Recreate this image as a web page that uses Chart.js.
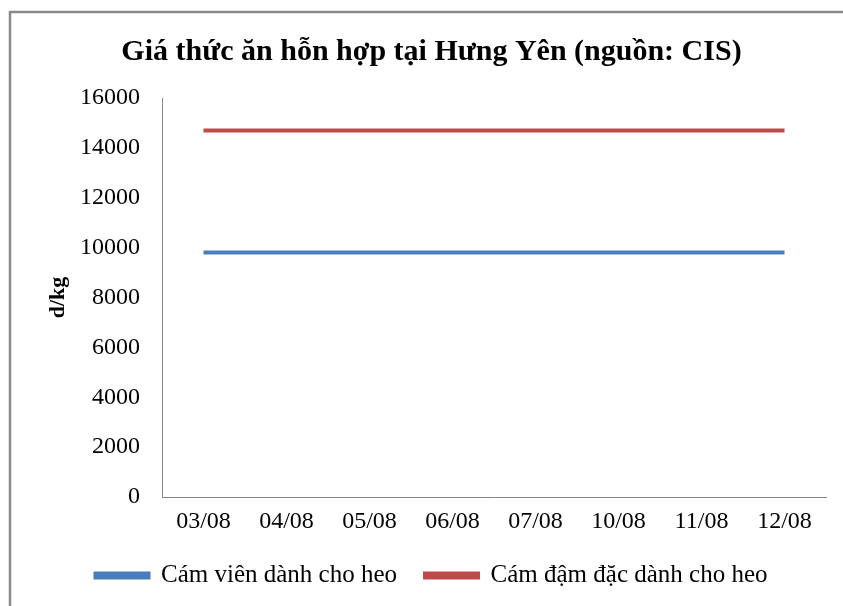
<!DOCTYPE html>
<html>
<head>
<meta charset="utf-8">
<script src="https://cdn.jsdelivr.net/npm/chart.js@4/dist/chart.umd.min.js"></script>
<style>
  html, body { margin: 0; padding: 0; background: #fff; }
  #wrap { width: 843px; height: 606px; position: relative; }
</style>
</head>
<body>
<div id="wrap"><canvas id="c" width="843" height="606"></canvas></div>
<script>
const categories = ["03/08", "04/08", "05/08", "06/08", "07/08", "10/08", "11/08", "12/08"];
const camVien = [9800, 9800, 9800, 9800, 9800, 9800, 9800, 9800];
const camDamDac = [14700, 14700, 14700, 14700, 14700, 14700, 14700, 14700];
const seriesNames = ["Cám viên dành cho heo", "Cám đậm đặc dành cho heo"];
const yTicks = [0, 2000, 4000, 6000, 8000, 10000, 12000, 14000, 16000];
const titleText = "Giá thức ăn hỗn hợp tại Hưng Yên (nguồn: CIS)";
const yTitle = "d/kg";

const FONT = "'Liberation Serif', 'Times New Roman', serif";

const framePlugin = {
  id: 'frame',
  beforeDraw(chart) {
    const ctx = chart.ctx;
    ctx.save();
    ctx.fillStyle = '#fff';
    ctx.fillRect(0, 0, chart.width, chart.height);
    ctx.strokeStyle = '#8a8a8a';
    ctx.lineWidth = 2.5;
    ctx.strokeRect(10, 12, 1000, 1000);
    ctx.restore();
  }
};

new Chart(document.getElementById('c'), {
  type: 'line',
  data: {
    labels: categories,
    datasets: [
      { label: seriesNames[0], data: camVien, borderColor: '#4A7EBB', backgroundColor: '#4A7EBB', borderWidth: 4, pointRadius: 0, tension: 0 },
      { label: seriesNames[1], data: camDamDac, borderColor: '#BE4B48', backgroundColor: '#BE4B48', borderWidth: 4, pointRadius: 0, tension: 0 }
    ]
  },
  options: {
    responsive: false,
    animation: false,
    layout: { padding: { left: 20, right: 0, top: 12, bottom: 8 } },
    plugins: {
      title: {
        display: true,
        text: titleText,
        color: '#000',
        font: { family: FONT, size: 30, weight: 'bold' },
        padding: { top: 22, bottom: 28 }
      },
      legend: {
        position: 'bottom',
        labels: {
          color: '#000',
          font: { family: FONT, size: 25 },
          boxWidth: 53,
          boxHeight: 4,
          padding: 28
        }
      },
      tooltip: { enabled: false }
    },
    scales: {
      x: {
        offset: true,
        afterFit(scale) { scale.height = 38; },
        grid: { display: false, drawTicks: false },
        border: { display: true, color: '#868686', width: 1 },
        ticks: { color: '#000', font: { family: FONT, size: 24 }, padding: 10, maxRotation: 0, autoSkip: false }
      },
      y: {
        min: 0,
        max: 16000,
        afterBuildTicks(scale) { scale.ticks = yTicks.map(v => ({ value: v })); },
        afterFit(scale) { scale.width = 142; },
        grid: { display: false, drawTicks: false },
        border: { display: true, color: '#868686', width: 1 },
        ticks: { color: '#000', font: { family: FONT, size: 24 }, padding: 22, callback: v => String(v) },
        title: {
          display: true,
          text: yTitle,
          color: '#000',
          font: { family: FONT, size: 22, weight: 'bold' },
          padding: { top: 25, bottom: 0 }
        }
      },
      yRight: {
        position: 'right',
        display: true,
        afterFit(scale) { scale.width = 17; },
        grid: { display: false, drawTicks: false },
        border: { display: false },
        ticks: { display: false }
      }
    }
  },
  plugins: [framePlugin]
});
</script>
</body>
</html>
